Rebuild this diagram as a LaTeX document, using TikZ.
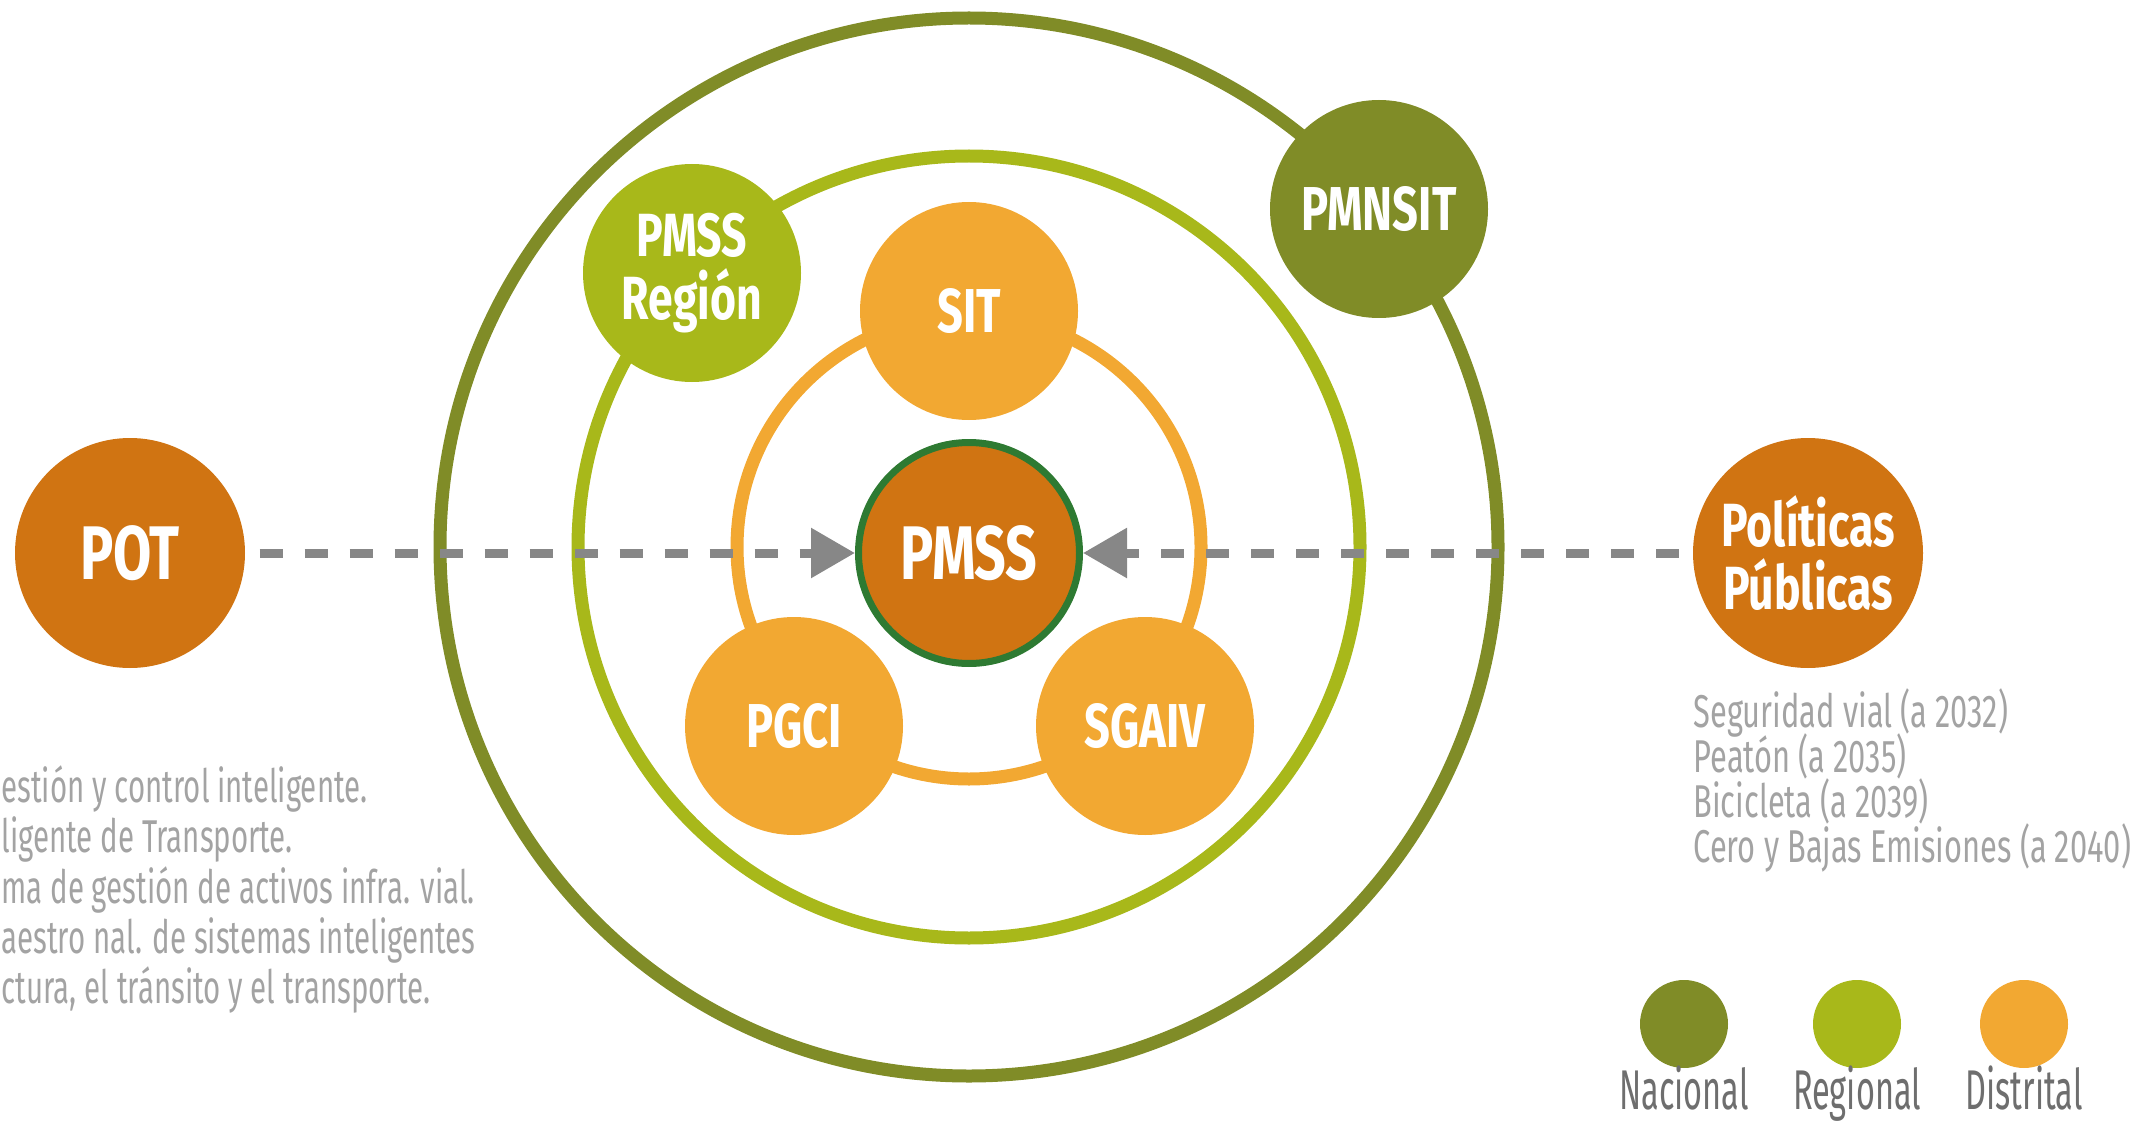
\documentclass[tikz,border=0pt]{standalone}
\usepackage{fontspec}
\usetikzlibrary{arrows.meta}
\setmainfont{Fira Sans}
\newfontfamily\circfont[FakeStretch=0.73]{Fira Sans}
\newfontfamily\notefont[FakeStretch=0.67]{Fira Sans}
\newfontfamily\sidefont[FakeStretch=0.64]{Fira Sans}
\newfontfamily\keyfont[FakeStretch=0.58]{Fira Sans}

\definecolor{nacional}{RGB}{128,140,39}
\definecolor{regional}{RGB}{168,184,26}
\definecolor{distrital}{RGB}{242,168,50}
\definecolor{naranja}{RGB}{208,116,18}
\definecolor{borde}{RGB}{46,122,50}
\definecolor{flecha}{RGB}{135,135,135}
\definecolor{nota}{RGB}{163,163,163}
\definecolor{clave}{RGB}{110,110,110}

\tikzset{every picture/.style={line width=0.75pt}}
\tikzset{
  ring/.style={line width=9.75pt},
  plan/.style={circle, inner sep=0pt, minimum size=163.5pt, text=white, align=center,
    font=\circfont\bfseries\fontsize{46.5}{48}\selectfont},
  bigtext/.style={font=\circfont\bfseries\fontsize{57}{60}\selectfont},
  twoline/.style={font=\circfont\bfseries\fontsize{45.75}{47.5}\selectfont},
  outerplan/.style={plan, fill=naranja, minimum size=172.5pt},
  flow/.style={draw=flecha, line width=6.75pt, dash pattern=on 17.25pt off 16.5pt,
    -{Triangle[length=33pt,width=36pt]}, shorten <=10.5pt},
  note/.style={anchor=base west, inner sep=0pt, text=nota,
    font=\notefont\fontsize{34.5}{36}\selectfont},
  sidenote/.style={note, font=\sidefont\fontsize{34.5}{36}\selectfont},
  key/.style={circle, inner sep=0pt, minimum size=66pt},
  keylabel/.style={anchor=base, inner sep=0pt, text=clave,
    font=\keyfont\fontsize{42}{44}\selectfont},
}

\begin{document}
\begin{tikzpicture}[x=0.75pt,y=0.75pt,yscale=-1,xscale=1]
\useasboundingbox (0,0) rectangle (2131,1123);

%Shape: Circle (nacional ring)
\draw [ring, nacional] (969,547) circle (529) ;
%Shape: Circle (regional ring)
\draw [ring, regional] (969,547) circle (391) ;
%Shape: Circle (distrital ring)
\draw [ring, distrital] (969,547) circle (232) ;

%Shape: Circle
\node [plan, fill=distrital] (sit) at (969,311) {SIT};
%Shape: Circle
\node [plan, fill=distrital] (pgci) at (794,726) {PGCI};
%Shape: Circle
\node [plan, fill=distrital] (sgaiv) at (1145,726) {SGAIV};
%Shape: Circle
\node [plan, twoline, fill=regional] (region) at (692,273) {PMSS\\Región};
%Shape: Circle
\node [plan, fill=nacional] (pmnsit) at (1379,209) {PMNSIT};
%Shape: Circle
\node [plan, bigtext, fill=naranja, draw=borde, line width=5.25pt, minimum size=165.75pt] (pmss) at (969,553) {PMSS};
%Shape: Circle
\node [outerplan, bigtext] (pot) at (130,553) {POT};
%Shape: Circle
\node [outerplan, twoline] (politicas) at (1808,553) {Políticas\\Públicas};

%Straight Lines
\draw [flow] (pot) -- (pmss) ;
%Straight Lines
\draw [flow] (politicas) -- (pmss) ;

% Text Node
\node [sidenote] (izq1) at (1,802) {estión y control inteligente.};
% Text Node
\node [sidenote] (izq2) at (1,852) {ligente de Transporte.};
% Text Node
\node [sidenote] (izq3) at (1,903) {ma de gestión de activos infra. vial.};
% Text Node
\node [sidenote] (izq4) at (1,953) {aestro nal. de sistemas inteligentes};
% Text Node
\node [sidenote] (izq5) at (1,1003) {ctura, el tránsito y el transporte.};

% Text Node
\node [note] (pol1) at (1693,727) {Seguridad vial (a 2032)};
% Text Node
\node [note] (pol2) at (1693,772) {Peatón (a 2035)};
% Text Node
\node [note] (pol3) at (1693,817) {Bicicleta (a 2039)};
% Text Node
\node [note] (pol4) at (1693,862) {Cero y Bajas Emisiones (a 2040)};

%Shape: Circle (legend)
\node [key, fill=nacional] (knac) at (1684,1024) {};
\node [key, fill=regional] (kreg) at (1857,1024) {};
\node [key, fill=distrital] (kdis) at (2024,1024) {};
% Text Node
\node [keylabel] (lnac) at (1684,1109) {Nacional};
% Text Node
\node [keylabel] (lreg) at (1857,1109) {Regional};
% Text Node
\node [keylabel] (ldis) at (2024,1109) {Distrital};

\end{tikzpicture}
\end{document}
